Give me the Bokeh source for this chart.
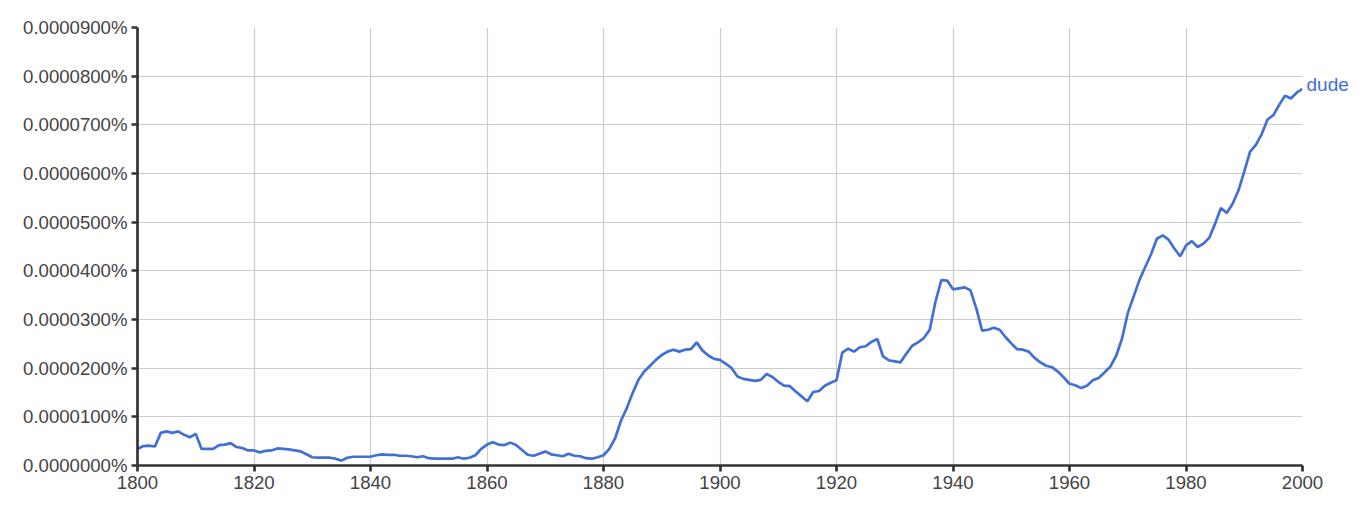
from bokeh.plotting import figure
from bokeh.models import FixedTicker, CustomJSTickFormatter, Range1d, ColumnDataSource, LinearAxis
from bokeh.embed import file_html
from bokeh.resources import INLINE

# Data: frequency of "dude", in units of 0.00001 % (i.e. 1.0 -> 0.0000100%)
years = list(range(1800, 2001))
freq = [
    0.34, 0.40, 0.41, 0.39, 0.67, 0.70, 0.67, 0.70, 0.63, 0.58,   # 1800-1809
    0.65, 0.34, 0.34, 0.34, 0.42, 0.43, 0.46, 0.38, 0.36, 0.31,   # 1810-1819
    0.31, 0.27, 0.30, 0.31, 0.35, 0.34, 0.33, 0.31, 0.29, 0.23,   # 1820-1829
    0.17, 0.16, 0.16, 0.16, 0.14, 0.10, 0.16, 0.18, 0.18, 0.18,   # 1830-1839
    0.18, 0.21, 0.23, 0.22, 0.22, 0.20, 0.20, 0.19, 0.17, 0.19,   # 1840-1849
    0.15, 0.14, 0.14, 0.14, 0.14, 0.17, 0.14, 0.16, 0.21, 0.34,   # 1850-1859
    0.43, 0.48, 0.43, 0.42, 0.47, 0.42, 0.32, 0.22, 0.20, 0.24,   # 1860-1869
    0.29, 0.23, 0.21, 0.19, 0.24, 0.20, 0.19, 0.15, 0.14, 0.17,   # 1870-1879
    0.21, 0.34, 0.56, 0.92, 1.18, 1.49, 1.76, 1.93, 2.05, 2.17,   # 1880-1889
    2.27, 2.34, 2.38, 2.34, 2.38, 2.39, 2.53, 2.36, 2.26, 2.19,   # 1890-1899
    2.17, 2.09, 2.00, 1.83, 1.78, 1.76, 1.74, 1.76, 1.88, 1.82,   # 1900-1909
    1.72, 1.64, 1.63, 1.52, 1.42, 1.32, 1.51, 1.53, 1.64, 1.70,   # 1910-1919
    1.75, 2.32, 2.40, 2.34, 2.43, 2.45, 2.54, 2.60, 2.24, 2.16,   # 1920-1929
    2.14, 2.12, 2.30, 2.46, 2.53, 2.62, 2.79, 3.37, 3.81, 3.80,   # 1930-1939
    3.62, 3.64, 3.66, 3.60, 3.23, 2.77, 2.79, 2.83, 2.79, 2.64,   # 1940-1949
    2.51, 2.39, 2.38, 2.34, 2.21, 2.12, 2.05, 2.02, 1.93, 1.81,   # 1950-1959
    1.68, 1.65, 1.59, 1.64, 1.75, 1.80, 1.91, 2.03, 2.25, 2.60,   # 1960-1969
    3.13, 3.47, 3.81, 4.08, 4.34, 4.66, 4.73, 4.64, 4.46, 4.30,   # 1970-1979
    4.52, 4.61, 4.49, 4.56, 4.68, 4.97, 5.29, 5.19, 5.38, 5.65,   # 1980-1989
    6.04, 6.45, 6.59, 6.81, 7.11, 7.20, 7.41, 7.60, 7.54, 7.66,   # 1990-1999
    7.74,                                                          # 2000
]
series_label = "dude"
x_ticks = [1800, 1820, 1840, 1860, 1880, 1900, 1920, 1940, 1960, 1980, 2000]
y_ticks = [0, 1, 2, 3, 4, 5, 6, 7, 8, 9]

LINE = "#4170d4"
TXT = "#444444"
AX = "#333333"
GRID = "#cccccc"
FONT = "Liberation Sans"

p = figure(
    frame_width=1165, frame_height=438,
    min_border_left=137, min_border_top=27, min_border_right=0, min_border_bottom=30,
    output_backend="svg", toolbar_location=None,
    x_range=Range1d(1800, 2000), y_range=Range1d(0, 9),
)
p.outline_line_color = None
p.background_fill_color = "white"
p.border_fill_color = "white"

src = ColumnDataSource(dict(x=years, y=freq))
p.line("x", "y", source=src, line_color=LINE, line_width=2.7)

for ax in (p.xaxis, p.yaxis):
    ax.axis_line_color = AX
    ax.axis_line_width = 2.7
    ax.major_tick_line_color = AX
    ax.major_tick_line_width = 2.7
    ax.major_tick_out = 6
    ax.major_tick_in = 0
    ax.minor_tick_line_color = None
    ax.major_label_text_font = FONT
    ax.major_label_text_font_size = "18.6px"
    ax.major_label_text_color = TXT
    ax.major_label_standoff = 4

p.xaxis.ticker = FixedTicker(ticks=x_ticks)
p.yaxis.ticker = FixedTicker(ticks=y_ticks)
p.yaxis.formatter = CustomJSTickFormatter(code="return (tick*1e-5).toFixed(7) + '%';")

# Series name at the end of the line, drawn as a right-side axis label
end_axis = LinearAxis(
    ticker=FixedTicker(ticks=[freq[-1] + 0.08]),
    formatter=CustomJSTickFormatter(code="return '%s';" % series_label),
    axis_line_color=None, major_tick_line_color=None, minor_tick_line_color=None,
    major_tick_out=0, major_tick_in=0, major_label_standoff=4,
    major_label_text_font=FONT, major_label_text_font_size="19px",
    major_label_text_color=LINE,
)
p.add_layout(end_axis, "right")

p.xgrid.ticker = FixedTicker(ticks=x_ticks)
p.ygrid.ticker = FixedTicker(ticks=y_ticks)
p.grid.grid_line_color = GRID
p.grid.grid_line_width = 1.2

open("out.html", "w").write(file_html(p, INLINE))
